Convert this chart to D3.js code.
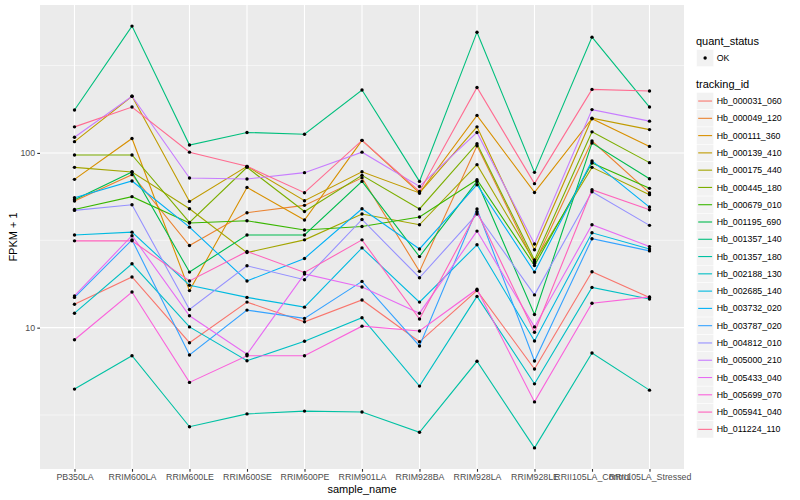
<!DOCTYPE html>
<html>
<head>
<meta charset="utf-8">
<script src="https://cdn.jsdelivr.net/npm/d3@7"></script>
<style>
  body { margin: 0; background: #fff; }
  svg { font-family: "Liberation Sans", Arial, Helvetica, sans-serif; }
</style>
</head>
<body>
<svg id="chart" width="800" height="500"></svg>
<script>
/* Data: FPKM + 1 per sample */
var samples = ["PB350LA", "RRIM600LA", "RRIM600LE", "RRIM600SE", "RRIM600PE", "RRIM901LA",
  "RRIM928BA", "RRIM928LA", "RRIM928LE", "RRII105LA_Control", "RRII105LA_Stressed"];

var trackingIds = ["Hb_000031_060", "Hb_000049_120", "Hb_000111_360", "Hb_000139_410",
  "Hb_000175_440", "Hb_000445_180", "Hb_000679_010", "Hb_001195_690", "Hb_001357_140",
  "Hb_001357_180", "Hb_002188_130", "Hb_002685_140", "Hb_003732_020", "Hb_003787_020",
  "Hb_004812_010", "Hb_005000_210", "Hb_005433_040", "Hb_005699_070", "Hb_005941_040",
  "Hb_011224_110"];

var hb_000031_060 = [13.6, 19.5, 8.2, 14.0, 10.8, 14.4, 8.3, 16.3, 5.8, 20.9, 14.9];
var hb_000049_120 = [53.0, 75.1, 29.5, 45.5, 50.1, 72.0, 21.0, 110, 23.4, 117, 59.0];
var hb_000111_360 = [70.6, 121, 16.3, 63.5, 41.3, 118, 59.0, 164, 59.4, 157, 109];
var hb_000139_410 = [116, 211, 52.8, 83.8, 53.3, 78.0, 59.0, 141, 27.9, 158, 136];
var hb_000175_440 = [82.7, 77.8, 47.9, 26.9, 31.8, 44.7, 38.8, 85.7, 23.9, 82.7, 57.7];
var hb_000445_180 = [97.4, 97.4, 40.0, 82.7, 46.2, 74.4, 47.8, 113, 24.4, 132, 88.0];
var hb_000679_010 = [47.5, 56.2, 39.7, 40.9, 36.2, 37.9, 43.0, 70.3, 22.7, 87.6, 62.7];
var hb_001195_690 = [54.0, 77.8, 20.8, 33.9, 33.9, 68.7, 25.5, 68.7, 11.9, 114, 71.2];
var hb_001357_140 = [176, 532, 111, 131, 128, 229, 68.7, 491, 77.4, 460, 183];
var hb_001357_180 = [4.45, 6.91, 2.71, 3.21, 3.33, 3.29, 2.52, 6.42, 2.05, 7.16, 4.39];
var hb_002188_130 = [12.1, 23.2, 10.1, 6.47, 8.36, 11.4, 4.63, 15.1, 4.77, 17.0, 14.6];
var hb_002685_140 = [33.9, 35.2, 17.5, 14.9, 13.1, 28.6, 14.0, 29.8, 8.39, 34.9, 28.2];
var hb_003732_020 = [55.4, 69.1, 37.6, 18.5, 24.9, 47.9, 28.2, 65.8, 20.8, 90.0, 49.0];
var hb_003787_020 = [14.9, 31.8, 6.98, 12.6, 11.3, 18.4, 7.86, 47.8, 6.44, 32.3, 27.5];
var hb_004812_010 = [46.9, 50.5, 12.7, 22.6, 18.8, 41.6, 19.3, 44.7, 15.4, 60.0, 38.5];
var hb_005000_210 = [123, 211, 71.9, 70.9, 77.1, 101, 64.3, 131, 30.1, 177, 152];
var hb_005433_040 = [15.2, 33.6, 11.7, 7.04, 20.3, 17.1, 12.1, 35.7, 10.1, 38.8, 29.1];
var hb_005699_070 = [8.53, 16.0, 4.86, 6.91, 6.91, 10.2, 9.57, 16.6, 3.76, 13.8, 15.0];
var hb_005941_040 = [31.4, 31.4, 18.5, 27.3, 20.7, 31.8, 11.2, 46.1, 9.41, 61.6, 47.3];
var hb_011224_110 = [141, 183, 101, 83.8, 59.2, 118, 60.2, 237, 66.7, 231, 226];

var seriesValues = [hb_000031_060, hb_000049_120, hb_000111_360, hb_000139_410, hb_000175_440,
  hb_000445_180, hb_000679_010, hb_001195_690, hb_001357_140, hb_001357_180, hb_002188_130,
  hb_002685_140, hb_003732_020, hb_003787_020, hb_004812_010, hb_005000_210, hb_005433_040,
  hb_005699_070, hb_005941_040, hb_011224_110];

var quantStatus = ["OK"];
var yTicks = [10, 100];

/* ggplot hue palette for 20 levels */
var palette = ["#F8766D", "#EA8331", "#D89000", "#C09B00", "#A3A500", "#7CAE00", "#39B600",
  "#00BB4E", "#00BF7D", "#00C1A3", "#00BFC4", "#00BAE0", "#00B0F6", "#35A2FF", "#9590FF",
  "#C77CFF", "#E76BF3", "#FA62DB", "#FF62BC", "#FF6C91"];

var panel = {left: 40, right: 684, top: 5, bottom: 469};

var series = trackingIds.map(function(id, i) {
  return {id: id, values: samples.map(function(s, j) { return {sample: s, fpkm: seriesValues[i][j]}; })};
});

/* Scales */
var x = d3.scalePoint()
  .domain(samples)
  .range([panel.left, panel.right])
  .padding(0.6);

var all = d3.merge(seriesValues);
var lo = Math.log10(d3.min(all)), hi = Math.log10(d3.max(all));
var pad = (hi - lo) * 0.05;
var y = d3.scaleLog()
  .domain([Math.pow(10, lo - pad), Math.pow(10, hi + pad)])
  .range([panel.bottom, panel.top]);

var color = d3.scaleOrdinal().domain(trackingIds).range(palette);

var svg = d3.select("#chart");

/* Panel and grid */
svg.append("rect")
  .attr("x", panel.left).attr("y", panel.top)
  .attr("width", panel.right - panel.left).attr("height", panel.bottom - panel.top)
  .attr("fill", "#EBEBEB");

var dom = y.domain();
var minor = [], major = [];
for (var k = -1; k <= 4; k++) {
  var m = Math.pow(10, k + 0.5), M = Math.pow(10, k);
  if (m > dom[0] && m < dom[1]) minor.push(m);
  if (M > dom[0] && M < dom[1]) major.push(M);
}

var grid = svg.append("g");
grid.selectAll(".minor").data(minor).enter().append("line")
  .attr("x1", panel.left).attr("x2", panel.right)
  .attr("y1", d => y(d)).attr("y2", d => y(d))
  .attr("stroke", "#fff").attr("stroke-width", 0.55);
grid.selectAll(".major").data(major).enter().append("line")
  .attr("x1", panel.left).attr("x2", panel.right)
  .attr("y1", d => y(d)).attr("y2", d => y(d))
  .attr("stroke", "#fff").attr("stroke-width", 1.1);
grid.selectAll(".vert").data(samples).enter().append("line")
  .attr("y1", panel.top).attr("y2", panel.bottom)
  .attr("x1", d => x(d)).attr("x2", d => x(d))
  .attr("stroke", "#fff").attr("stroke-width", 1.1);

/* Lines */
var line = d3.line()
  .x(d => x(d.sample))
  .y(d => y(d.fpkm));

svg.append("g").selectAll("path")
  .data(series).enter()
  .append("path")
  .attr("d", d => line(d.values))
  .attr("fill", "none")
  .attr("stroke", d => color(d.id))
  .attr("stroke-width", 1.1);

/* Points */
svg.append("g").selectAll("g")
  .data(series).enter()
  .append("g")
  .selectAll("circle")
  .data(d => d.values).enter()
  .append("circle")
  .attr("cx", d => x(d.sample))
  .attr("cy", d => y(d.fpkm))
  .attr("r", 1.7)
  .attr("fill", "#000");

/* Axes */
var xAxis = svg.append("g")
  .attr("transform", `translate(0, ${panel.bottom})`)
  .call(d3.axisBottom(x).tickSize(2.75).tickPadding(2.2));
var yAxis = svg.append("g")
  .attr("transform", `translate(${panel.left}, 0)`)
  .call(d3.axisLeft(y).tickValues(yTicks).tickFormat(d3.format("d")).tickSize(2.75).tickPadding(2.2));

[xAxis, yAxis].forEach(function(a) {
  a.select(".domain").remove();
  a.selectAll(".tick line").attr("stroke", "#333333").attr("stroke-width", 1.1);
  a.selectAll(".tick text").attr("fill", "#4D4D4D")
    .style("font-size", "8.8px").style("font-family", "'Liberation Sans', Arial, sans-serif");
});

svg.append("text")
  .attr("x", (panel.left + panel.right) / 2).attr("y", 492.5)
  .attr("text-anchor", "middle")
  .style("font-size", "11px")
  .text("sample_name");

svg.append("text")
  .attr("transform", `translate(17, ${(panel.top + panel.bottom) / 2}) rotate(-90)`)
  .attr("text-anchor", "middle")
  .style("font-size", "11px")
  .text("FPKM + 1");

/* Legends */
var keySize = 17.28, keyX = 696.5, textX = 716.7;
var lg = svg.append("g");

lg.append("text").attr("x", 696).attr("y", 44.5)
  .style("font-size", "11px").text("quant_status");

var qk = lg.selectAll(".qk").data(quantStatus).enter().append("g")
  .attr("transform", (d, i) => `translate(0, ${49.3 + i * keySize})`);
qk.append("rect").attr("x", keyX).attr("width", keySize).attr("height", keySize)
  .attr("fill", "#F2F2F2").attr("stroke", "#fff").attr("stroke-width", 0.5);
qk.append("circle").attr("cx", keyX + keySize / 2).attr("cy", keySize / 2).attr("r", 1.7).attr("fill", "#000");
qk.append("text").attr("x", textX).attr("y", keySize / 2 + 3.1)
  .style("font-size", "8.8px").text(d => d);

lg.append("text").attr("x", 696).attr("y", 88)
  .style("font-size", "11px").text("tracking_id");

var tk = lg.selectAll(".tk").data(trackingIds).enter().append("g")
  .attr("transform", (d, i) => `translate(0, ${92.4 + i * keySize})`);
tk.append("rect").attr("x", keyX).attr("width", keySize).attr("height", keySize)
  .attr("fill", "#F2F2F2").attr("stroke", "#fff").attr("stroke-width", 0.5);
tk.append("line")
  .attr("x1", keyX + 1.7).attr("x2", keyX + keySize - 1.7)
  .attr("y1", keySize / 2).attr("y2", keySize / 2)
  .attr("stroke", d => color(d)).attr("stroke-width", 1.1);
tk.append("text").attr("x", textX).attr("y", keySize / 2 + 3.1)
  .style("font-size", "8.8px").text(d => d);
</script>
</body>
</html>
